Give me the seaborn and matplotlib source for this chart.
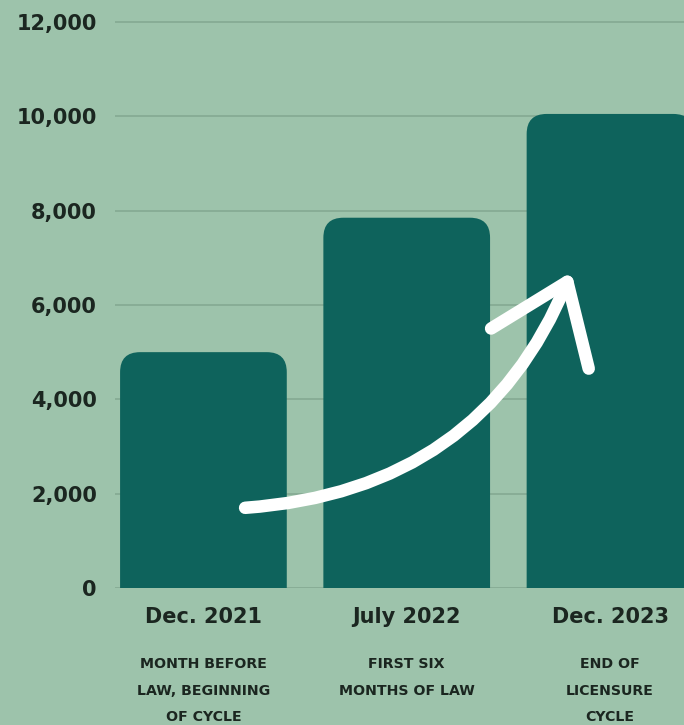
import matplotlib
matplotlib.use("Agg")
import matplotlib.pyplot as plt
import seaborn as sns
import pandas as pd
from matplotlib.patches import FancyBboxPatch, FancyArrowPatch

# ---- data ----
categories = ["Dec. 2021", "July 2022", "Dec. 2023"]
values = [5000, 7850, 10050]
sublabels = ["MONTH BEFORE\nLAW, BEGINNING\nOF CYCLE",
             "FIRST SIX\nMONTHS OF LAW",
             "END OF\nLICENSURE\nCYCLE"]
yticks = [0, 2000, 4000, 6000, 8000, 10000, 12000]
ytick_labels = ["0", "2,000", "4,000", "6,000", "8,000", "10,000", "12,000"]

# ---- style ----
BG = "#9dc3ab"
BAR = "#0e635c"
GRID = "#88ad96"
TXT = "#1b2620"

sns.set_theme(style="white")
plt.rcParams["font.family"] = ["DejaVu Sans"]

W, H = 684, 725
fig = plt.figure(figsize=(W / 100, H / 100), dpi=100, facecolor=BG)
ax_left, ax_bottom_px, ax_right = 115, 137, 684
ymax = 12250
px_per_y = 0.04717
ax_h_px = ymax * px_per_y
ax = fig.add_axes([ax_left / W, ax_bottom_px / H, (ax_right - ax_left) / W, ax_h_px / H])
ax.set_facecolor(BG)

df = pd.DataFrame({"period": categories, "count": values})
sns.barplot(data=df, x="period", y="count", color=BAR, saturation=1,
            width=0.82, ax=ax, zorder=2)

ax.set_xlim(-0.435, 2.364)
ax.set_ylim(0, ymax)

# rounded tops for the bars drawn by seaborn
px_per_x = (ax_right - ax_left) / (2.364 + 0.435)
r_px = 20
r_x = r_px / px_per_x
r_y = r_px / px_per_y
for p in list(ax.patches):
    x, y0 = p.get_x(), p.get_y()
    w, h = p.get_width(), p.get_height()
    p.remove()
    fb = FancyBboxPatch((x, y0 - 2 * r_y), w, h + 2 * r_y,
                        boxstyle=f"round,pad=0,rounding_size={r_x}",
                        mutation_aspect=r_y / r_x,
                        fc=BAR, ec="none", zorder=2)
    ax.add_patch(fb)

# grid & axes
ax.set_yticks(yticks)
ax.set_yticklabels(ytick_labels)
ax.yaxis.grid(True, color=GRID, lw=1.4, zorder=0)
ax.xaxis.grid(False)
ax.set_axisbelow(True)
for s in ax.spines.values():
    s.set_visible(False)
ax.set_xlabel("")
ax.set_ylabel("")
ax.tick_params(axis="y", length=0, pad=13, labelsize=15, labelcolor=TXT)
ax.tick_params(axis="x", length=0, pad=14, labelsize=15, labelcolor=TXT)
for lab in ax.get_yticklabels() + ax.get_xticklabels():
    lab.set_fontweight("bold")

# sub-labels
trans = ax.get_xaxis_transform()
y_top = ((H - 657) - ax_bottom_px) / ax_h_px
for i, s in enumerate(sublabels):
    ax.text(i, y_top, s, transform=trans, ha="center", va="top",
            fontsize=10.2, fontweight="bold", color=TXT,
            linespacing=2.15, clip_on=False)

# white curved arrow
arrow = FancyArrowPatch((0.205, 1700), (1.81, 6700),
                        connectionstyle="arc3,rad=0.31",
                        arrowstyle="->,head_length=0.52,head_width=0.38",
                        mutation_scale=100, lw=9, color="white",
                        capstyle="round", joinstyle="round",
                        shrinkA=0, shrinkB=0, zorder=5)
ax.add_patch(arrow)

fig.savefig("out.png", dpi=100, facecolor=BG)
